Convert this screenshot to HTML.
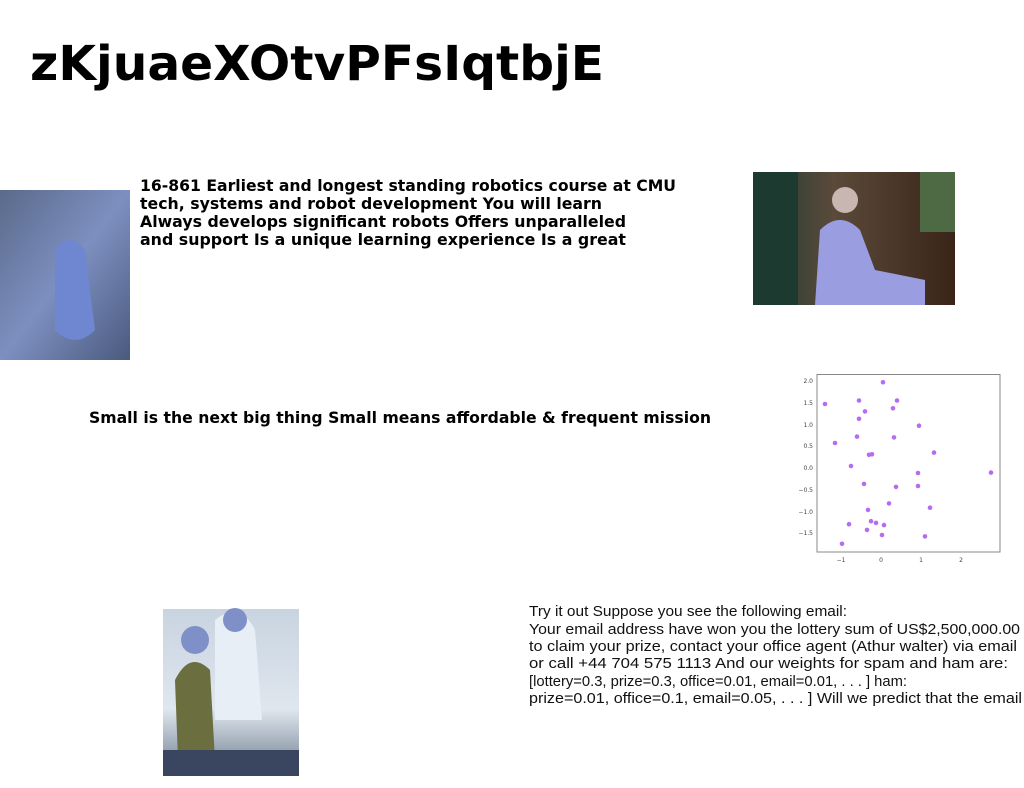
<!DOCTYPE html>
<html><head><meta charset="utf-8"><style>
html,body{margin:0;padding:0;background:#fff;width:1024px;height:788px;overflow:hidden}
svg{display:block}
.b{font-family:"DejaVu Sans","Liberation Sans",sans-serif;font-weight:bold;fill:#000}
.r{font-family:"Liberation Sans","DejaVu Sans",sans-serif;fill:#111;font-size:15px}
.t{font-family:"DejaVu Sans",sans-serif;font-size:6px;fill:#444}
</style></head><body>
<svg width="1024" height="788" viewBox="0 0 1024 788" xmlns="http://www.w3.org/2000/svg">
<defs>
<linearGradient id="g1" x1="0" y1="0" x2="1" y2="1"><stop offset="0" stop-color="#5a6a8a"/><stop offset="0.5" stop-color="#7d8fc0"/><stop offset="1" stop-color="#4a5a7e"/></linearGradient>
<linearGradient id="g2" x1="0" y1="0" x2="1" y2="0"><stop offset="0" stop-color="#1f3a35"/><stop offset="0.4" stop-color="#5a4a3a"/><stop offset="1" stop-color="#3a2418"/></linearGradient>
<linearGradient id="g3" x1="0" y1="0" x2="0" y2="1"><stop offset="0" stop-color="#c8d4e0"/><stop offset="0.6" stop-color="#dfe6ee"/><stop offset="1" stop-color="#6b7a8c"/></linearGradient>
</defs>
<text class="b" x="30" y="80" font-size="48" textLength="574" lengthAdjust="spacingAndGlyphs">zKjuaeXOtvPFsIqtbjE</text>

<rect x="0" y="190" width="130" height="170" fill="url(#g1)"/>
<path d="M55 250 Q70 230 85 250 L95 330 Q75 350 55 330 Z" fill="#6f86d0"/>
<text class="b" font-size="16" x="140" y="191" textLength="536" lengthAdjust="spacingAndGlyphs">16-861 Earliest and longest standing robotics course at CMU</text>
<text class="b" font-size="16" x="140" y="209" textLength="462" lengthAdjust="spacingAndGlyphs">tech, systems and robot development You will learn</text>
<text class="b" font-size="16" x="140" y="227" textLength="486" lengthAdjust="spacingAndGlyphs">Always develops significant robots Offers unparalleled</text>
<text class="b" font-size="16" x="140" y="245" textLength="486" lengthAdjust="spacingAndGlyphs">and support Is a unique learning experience Is a great</text>

<rect x="753" y="172" width="202" height="133" fill="url(#g2)"/>
<rect x="753" y="172" width="45" height="133" fill="#1d3a30"/>
<rect x="920" y="172" width="35" height="60" fill="#4d6a45"/>
<path d="M815 305 L820 230 Q840 210 860 230 L875 270 L925 280 L925 305 Z" fill="#9a9ee0"/>
<circle cx="845" cy="200" r="13" fill="#c8b6b0"/>

<text class="b" font-size="16" x="89" y="423" textLength="622" lengthAdjust="spacingAndGlyphs">Small is the next big thing Small means affordable &amp; frequent mission</text>

<rect x="817" y="374.5" width="183" height="177.5" fill="none" stroke="#888" stroke-width="1"/>
<g class="t" text-anchor="end">
<text x="813" y="383">2.0</text><text x="813" y="405">1.5</text><text x="813" y="427">1.0</text><text x="813" y="448">0.5</text><text x="813" y="470">0.0</text><text x="813" y="492">−0.5</text><text x="813" y="514">−1.0</text><text x="813" y="535">−1.5</text>
</g>
<g class="t" text-anchor="middle">
<text x="841" y="562">−1</text><text x="881" y="562">0</text><text x="921" y="562">1</text><text x="961" y="562">2</text>
</g>
<g fill="#b56cf0">
<circle cx="825" cy="404" r="2.3"/><circle cx="859" cy="400.5" r="2.3"/><circle cx="883" cy="382.3" r="2.3"/><circle cx="897" cy="400.5" r="2.3"/>
<circle cx="893" cy="408.3" r="2.3"/><circle cx="865" cy="411.4" r="2.3"/><circle cx="859" cy="418.8" r="2.3"/><circle cx="919" cy="425.7" r="2.3"/>
<circle cx="857" cy="436.6" r="2.3"/><circle cx="894" cy="437.4" r="2.3"/><circle cx="835" cy="443" r="2.3"/><circle cx="869" cy="454.8" r="2.3"/>
<circle cx="872" cy="454.3" r="2.3"/><circle cx="934" cy="452.6" r="2.3"/><circle cx="851" cy="466" r="2.3"/><circle cx="918" cy="473" r="2.3"/>
<circle cx="991" cy="472.6" r="2.3"/><circle cx="864" cy="483.9" r="2.3"/><circle cx="896" cy="486.9" r="2.3"/><circle cx="918" cy="486" r="2.3"/>
<circle cx="889" cy="503.4" r="2.3"/><circle cx="930" cy="507.7" r="2.3"/><circle cx="868" cy="509.9" r="2.3"/><circle cx="871" cy="521.2" r="2.3"/>
<circle cx="876" cy="522.9" r="2.3"/><circle cx="884" cy="525.1" r="2.3"/><circle cx="849" cy="524.2" r="2.3"/><circle cx="867" cy="529.9" r="2.3"/>
<circle cx="882" cy="535" r="2.3"/><circle cx="925" cy="536.4" r="2.3"/><circle cx="842" cy="543.8" r="2.3"/>
</g>

<rect x="163" y="609" width="136" height="167" fill="url(#g3)"/>
<path d="M175 680 Q190 650 210 670 L215 760 L178 760 Z" fill="#6b6e3e"/>
<path d="M215 620 Q240 600 255 630 L262 720 L215 720 Z" fill="#e8eef6"/>
<circle cx="195" cy="640" r="14" fill="#7f90c8"/>
<circle cx="235" cy="620" r="12" fill="#7f90c8"/>
<rect x="163" y="750" width="136" height="26" fill="#3a4660"/>

<text class="r" x="529" y="616" textLength="318" lengthAdjust="spacingAndGlyphs">Try it out Suppose you see the following email:</text>
<text class="r" x="529" y="634" textLength="491" lengthAdjust="spacingAndGlyphs">Your email address have won you the lottery sum of US$2,500,000.00</text>
<text class="r" x="529" y="651" textLength="488" lengthAdjust="spacingAndGlyphs">to claim your prize, contact your office agent (Athur walter) via email</text>
<text class="r" x="529" y="668" textLength="479" lengthAdjust="spacingAndGlyphs">or call +44 704 575 1113 And our weights for spam and ham are:</text>
<text class="r" x="529" y="686" textLength="378" lengthAdjust="spacingAndGlyphs">[lottery=0.3, prize=0.3, office=0.01, email=0.01, . . . ] ham:</text>
<text class="r" x="529" y="703" textLength="493" lengthAdjust="spacingAndGlyphs">prize=0.01, office=0.1, email=0.05, . . . ] Will we predict that the email</text>
</svg>
</body></html>
